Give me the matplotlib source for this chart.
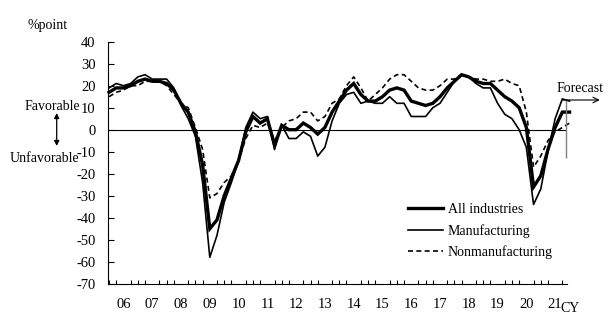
import matplotlib.pyplot as plt
import numpy as np

plt.rcParams['font.family'] = ['Liberation Serif', 'DejaVu Serif']
plt.rcParams['font.size'] = 10
plt.rcParams['axes.unicode_minus'] = False

# Business conditions DI, large enterprises, quarterly from Sep 2005 to Sep 2021
# (the last value is the forecast)
all_industries = [17, 19,
                  19, 20, 22, 23,
                  22, 22, 21, 18,
                  12, 8, -1, -16,
                  -45, -41, -30, -22,
                  -14, -1, 6, 3,
                  5, -7, 2, 0,
                  0, 3, 1, -2,
                  1, 8, 13, 18,
                  21, 16, 13, 13,
                  15, 18, 19, 18,
                  13, 12, 11, 12,
                  15, 19, 22, 25,
                  24, 22, 21, 21,
                  18, 15, 13, 10,
                  1, -26, -21, -9,
                  1, 8, 8]
manufacturing = [19, 21,
                 20, 21, 24, 25,
                 23, 23, 23, 19,
                 11, 5, -3, -24,
                 -58, -48, -33, -24,
                 -14, 1, 8, 5,
                 6, -9, 2, -4,
                 -4, -1, -3, -12,
                 -8, 4, 12, 16,
                 17, 12, 13, 12,
                 12, 15, 12, 12,
                 6, 6, 6, 10,
                 12, 17, 22, 25,
                 24, 21, 19, 19,
                 12, 7, 5, 0,
                 -8, -34, -27, -10,
                 5, 14, 13]
nonmanufacturing = [15, 17,
                    18, 20, 20, 22,
                    22, 22, 20, 16,
                    12, 10, 1, -9,
                    -31, -29, -24, -21,
                    -14, -4, 2, 1,
                    3, -5, 1, 4,
                    5, 8, 8, 4,
                    6, 12, 14, 20,
                    24, 19, 13, 16,
                    19, 23, 25, 25,
                    22, 19, 18, 18,
                    20, 23, 23, 25,
                    24, 23, 23, 22,
                    22, 23, 21, 20,
                    8, -17, -12, -5,
                    -1, 1, 3]
year_labels = ['06', '07', '08', '09', '10', '11', '12', '13',
               '14', '15', '16', '17', '18', '19', '20', '21']

q = np.arange(len(all_industries))
first_march = 2                      # Mar 2006 is the third quarter in the series
year_pos = first_march + 4 * np.arange(len(year_labels))
last_actual = len(q) - 2             # Jun 2021

fig = plt.figure(figsize=(6.16, 3.25), dpi=100)
ax = fig.add_axes([108 / 616, 1 - 283.7 / 325, 459 / 616, 242 / 325])

ax.plot(q, all_industries, color='black', lw=2.4, label='All industries',
        clip_on=False, solid_joinstyle='miter')
ax.plot(q, manufacturing, color='black', lw=1.2, label='Manufacturing',
        clip_on=False)
ax.plot(q, nonmanufacturing, color='black', lw=1.2, ls=(0, (3, 2)),
        label='Nonmanufacturing', clip_on=False)

ax.axhline(0, color='black', lw=0.8)

ax.set_ylim(-70, 40)
ax.set_xlim(-0.15, 63.65)
ax.set_yticks(np.arange(-70, 41, 10))
ax.tick_params(axis='y', direction='in', length=4, width=0.8, pad=9,
               labelsize=10.5)
ax.set_xticks(year_pos)
ax.set_xticklabels(year_labels)
ax.set_xticks(np.arange(0, 64), minor=True)
ax.tick_params(axis='x', which='major', length=0, pad=10, labelsize=10.5)
ax.tick_params(axis='x', which='minor', direction='in', length=3, width=0.8)

for side in ['top', 'right']:
    ax.spines[side].set_visible(False)
for side in ['left', 'bottom']:
    ax.spines[side].set_linewidth(0.8)

# forecast marker
split = last_actual + 0.5
ax.vlines(split, -13, manufacturing[last_actual] - 0.5, color='gray', lw=1,
          clip_on=False)
ax.annotate('', xy=(68.2, manufacturing[last_actual] - 0.5),
            xytext=(last_actual, manufacturing[last_actual] - 0.5),
            arrowprops=dict(arrowstyle='->', color='black', lw=0.8,
                            shrinkA=0, shrinkB=0),
            annotation_clip=False)
ax.text(65.5, 18.5, 'Forecast', ha='center', va='center', fontsize=10)

ax.legend(loc='upper left', bbox_to_anchor=(0.6536, 0.333), frameon=False,
          borderpad=0, borderaxespad=0, handlelength=2.5, handletextpad=0.35,
          labelspacing=0.56, fontsize=10)

# axis captions
fig.text(48 / 616, 1 - 25 / 325, '%point', ha='center', va='center',
         fontsize=10)
fig.text(570 / 616, 1 - 308 / 325, 'CY', ha='center', va='center',
         fontsize=10)
fig.text(52 / 616, 1 - 107 / 325, 'Favorable', ha='center', va='center',
         fontsize=10)
fig.text(44 / 616, 1 - 158 / 325, 'Unfavorable', ha='center', va='center',
         fontsize=10)
fig.add_artist(plt.matplotlib.patches.FancyArrowPatch(
    (56.7 / 616, 1 - 113 / 325), (56.7 / 616, 1 - 146 / 325),
    transform=fig.transFigure, arrowstyle='<|-|>,head_length=3,head_width=1.5',
    color='black', lw=0.9, shrinkA=0, shrinkB=0))

fig.savefig('out.png', dpi=100)
